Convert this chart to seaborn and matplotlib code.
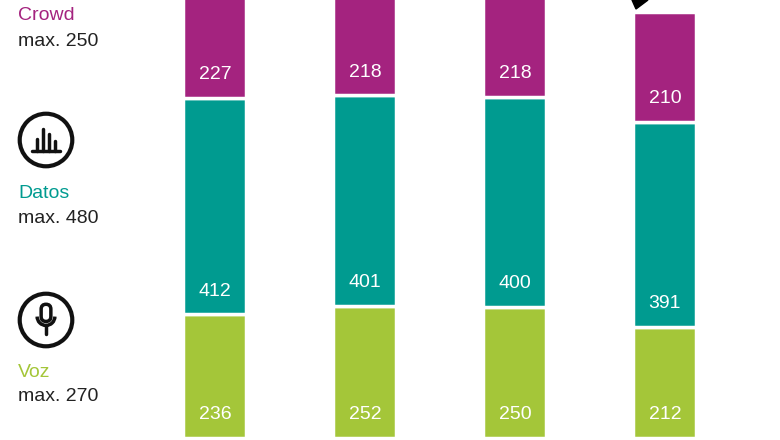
import matplotlib
matplotlib.use("Agg")
import matplotlib.pyplot as plt
import seaborn as sns
import pandas as pd
from matplotlib.patches import Circle, FancyBboxPatch, Arc, Polygon

sns.set_theme(style="white")
plt.rcParams['font.family'] = ['Liberation Sans', 'DejaVu Sans']

periods = ["P1", "P2", "P3", "P4"]
voz = [236, 252, 250, 212]
datos = [412, 401, 400, 391]
crowd = [227, 218, 218, 210]

c_voz, c_datos, c_crowd = "#A4C639", "#009B90", "#A4237F"

W, H = 780, 440
fig = plt.figure(figsize=(7.8, 4.4), dpi=100)
ax = fig.add_axes([0, 0, 1, 1])

df = pd.DataFrame({"p": periods, "voz": voz, "datos": datos, "crowd": crowd})
bott2 = [v + d for v, d in zip(voz, datos)]
for col, bottom, color in [("voz", None, c_voz), ("datos", voz, c_datos), ("crowd", bott2, c_crowd)]:
    kw = {} if bottom is None else {"bottom": bottom}
    sns.barplot(data=df, x="p", y=col, color=color, width=0.42, edgecolor="white",
                linewidth=2.5, saturation=1, ax=ax, **kw)
    base = [0] * 4 if bottom is None else bottom
    vals = df[col].tolist()
    for i, (b, v) in enumerate(zip(base, vals)):
        ax.text(i, b + 44, str(v), ha="center", va="center", color="white", fontsize=14)

ax.set_xlim(-1.433, 3.767)
ax.set_ylim(-4, 835)
ax.axis("off")

# small black callout tip above the last bar
fig.patches.append(Polygon([(632 / W, 1), (648 / W, 1), (636 / W, 1 - 9 / H)],
                           closed=True, color="black", transform=fig.transFigure))

def t(x, y, s, color, size=14):
    fig.text(x / W, 1 - y / H, s, color=color, fontsize=size, va="center", ha="left")

t(18, 15, "Crowd", c_crowd)
t(18, 42, "max. 250", "#222222")
t(18, 193, "Datos", c_datos)
t(18, 218, "max. 480", "#222222")
t(18, 372, "Voz", c_voz)
t(18, 396, "max. 270", "#222222")

# icons
def icon_ax(cy):
    a = fig.add_axes([(46 - 30) / W, 1 - (cy + 30) / H, 60 / W, 60 / H])
    a.set_xlim(-1.05, 1.05); a.set_ylim(-1.05, 1.05); a.set_aspect("equal"); a.axis("off")
    a.add_patch(Circle((0, 0), 0.92, fill=False, lw=3, ec="#111111"))
    return a

a1 = icon_ax(140)
a1.plot([-0.5, 0.5], [-0.4, -0.4], color="#111111", lw=2.5)
for x, h in [(-0.3, 0.45), (-0.1, 0.8), (0.1, 0.6), (0.3, 0.35)]:
    a1.plot([x, x], [-0.4, -0.4 + h], color="#111111", lw=2.5)

a2 = icon_ax(320)
a2.add_patch(FancyBboxPatch((-0.17, -0.05), 0.34, 0.6, boxstyle="round,pad=0,rounding_size=0.17",
                            fill=False, lw=2.5, ec="#111111"))
a2.add_patch(Arc((0, 0.12), 0.62, 0.62, theta1=180, theta2=360, lw=2.5, color="#111111"))
a2.plot([0, 0], [-0.19, -0.5], color="#111111", lw=2.5)

fig.savefig("out.png", dpi=100)
